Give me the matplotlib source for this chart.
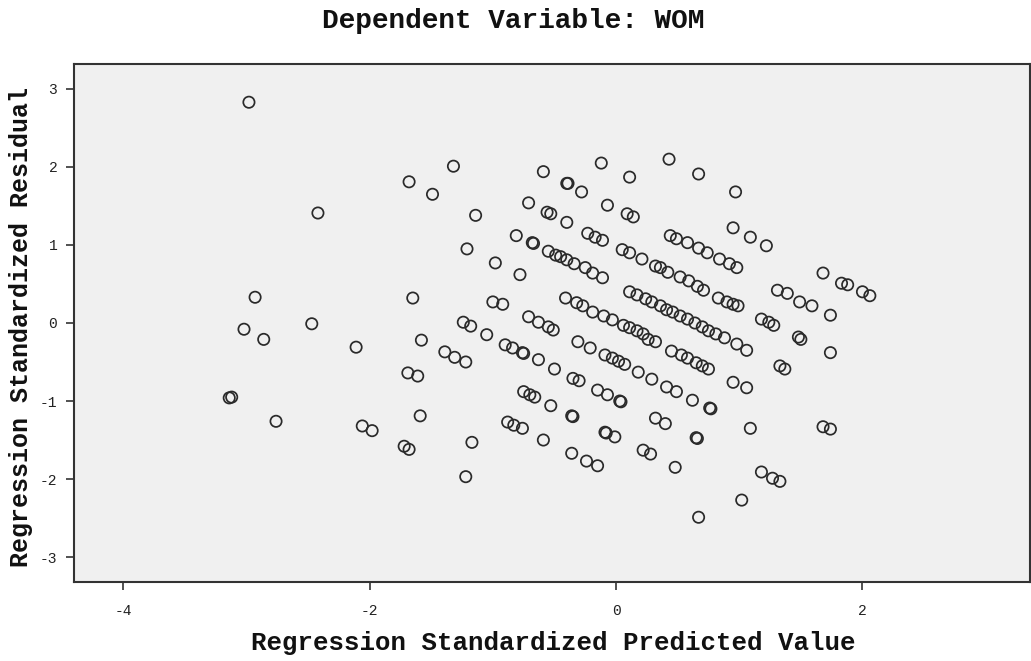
import matplotlib
matplotlib.use("Agg")
import matplotlib.pyplot as plt
import numpy as np

# Regression standardized predicted values (x) and standardized residuals (y)
pred = [
    -2.98, -1.32, -1.68, -1.49, -2.42, -1.14, -1.21, -2.93, -1.65, -3.02,
    -2.86, -2.47, -2.11, -1.58, -3.14, -3.12, -2.76, -1.69, -1.61, -1.59,
    -2.06, -1.98, -1.72, -1.68, -1.17, -1.22, -1.24, -1.18, -1.39, -1.31,
    -1.22, -1.05, -1.00, -0.92, -0.98, -0.78,
    -0.59, -0.40, -0.39, -0.28, -0.12, 0.11, 0.43, 0.67, 0.97, -0.71,
    -0.56, -0.53, -0.40, -0.07, 0.09, 0.14, -0.81, -0.68, -0.67,
    -0.55, -0.49, -0.45, -0.40, -0.34, -0.25, -0.19, -0.11, -0.23, -0.17, -0.11,
    0.05, 0.11, 0.21, 0.32, 0.36, 0.42, 0.52, 0.59, 0.66, 0.71, 0.83, 0.90, 0.95, 0.99,
    0.44, 0.49, 0.58, 0.67, 0.74, 0.84, 0.92, 0.98, 0.95, 1.09, 1.22,
    -0.41, -0.32, -0.27, -0.19, -0.10, -0.03, 0.06, 0.11, 0.17, 0.22, 0.26, 0.32,
    0.11, 0.17, 0.24, 0.29, 0.36, 0.41, 0.46, 0.52, 0.58, 0.64, 0.70, 0.75, 0.81, 0.88, 0.98, 1.06,
    0.45, 0.53, 0.58, 0.65, 0.70, 0.75, 0.95, 1.06,
    -0.31, -0.21, -0.09, -0.03, 0.02, 0.07, 0.18, 0.29, 0.41, 0.49, 0.62, 0.76, 0.77,
    -0.71, -0.63, -0.55, -0.51,
    -0.90, -0.84, -0.76, -0.75, -0.63, -0.50, -0.35, -0.30,
    -0.75, -0.70, -0.66, -0.53, -0.36, -0.35, -0.88, -0.83, -0.76, -0.59, -0.36,
    -0.24, -0.15, -0.15, -0.07, 0.03, 0.04, -0.09, -0.08, -0.01, 0.22, 0.28,
    0.32, 0.40, 0.48, 0.65, 0.66, 0.67,
    1.31, 1.39, 1.49, 1.59, 1.68, 1.83, 1.88, 2.00, 2.06, 1.74, 1.18, 1.24, 1.28,
    1.48, 1.50, 1.74, 1.68, 1.74, 1.18, 1.27, 1.33, 1.02, 1.09, 1.33, 1.37,
]
resid = [
    2.83, 2.01, 1.81, 1.65, 1.41, 1.38, 0.95, 0.33, 0.32, -0.08,
    -0.21, -0.01, -0.31, -0.22, -0.96, -0.95, -1.26, -0.64, -0.68, -1.19,
    -1.32, -1.38, -1.58, -1.62, -1.53, -1.97, 0.01, -0.04, -0.37, -0.44,
    -0.50, -0.15, 0.27, 0.24, 0.77, 0.62,
    1.94, 1.79, 1.79, 1.68, 2.05, 1.87, 2.10, 1.91, 1.68, 1.54,
    1.42, 1.40, 1.29, 1.51, 1.40, 1.36, 1.12, 1.03, 1.02,
    0.92, 0.87, 0.85, 0.81, 0.76, 0.71, 0.64, 0.58, 1.15, 1.10, 1.06,
    0.94, 0.90, 0.82, 0.73, 0.71, 0.65, 0.59, 0.54, 0.47, 0.42, 0.32, 0.27, 0.24, 0.22,
    1.12, 1.08, 1.03, 0.96, 0.90, 0.82, 0.76, 0.71, 1.22, 1.10, 0.99,
    0.32, 0.26, 0.22, 0.14, 0.09, 0.04, -0.03, -0.06, -0.10, -0.14, -0.21, -0.24,
    0.40, 0.36, 0.31, 0.27, 0.22, 0.17, 0.14, 0.09, 0.05, 0.00, -0.05, -0.10, -0.14, -0.19, -0.27, -0.35,
    -0.36, -0.41, -0.45, -0.51, -0.55, -0.59, -0.76, -0.83,
    -0.24, -0.32, -0.41, -0.45, -0.49, -0.53, -0.63, -0.72, -0.82, -0.88, -0.99, -1.09, -1.10,
    0.08, 0.01, -0.05, -0.09,
    -0.28, -0.32, -0.38, -0.39, -0.47, -0.59, -0.71, -0.74,
    -0.88, -0.92, -0.95, -1.06, -1.19, -1.20, -1.27, -1.31, -1.35, -1.50, -1.67,
    -1.77, -1.83, -0.86, -0.92, -1.00, -1.01, -1.40, -1.41, -1.46, -1.63, -1.68,
    -1.22, -1.29, -1.85, -1.47, -1.48, -2.49,
    0.42, 0.38, 0.27, 0.22, 0.64, 0.51, 0.49, 0.40, 0.35, 0.10, 0.05, 0.01, -0.03,
    -0.18, -0.21, -0.38, -1.33, -1.36, -1.91, -1.99, -2.03, -2.27, -1.35, -0.55, -0.59,
]

title_text = "Dependent Variable: WOM"
x_label = "Regression Standardized Predicted Value"
y_label = "Regression Standardized Residual"
x_ticks = [-4, -2, 0, 2]
y_ticks = [-3, -2, -1, 0, 1, 2, 3]

mono = ["Liberation Mono", "DejaVu Sans Mono"]

fig = plt.figure(figsize=(10.31, 6.61), dpi=100)
fig.patch.set_facecolor("white")
ax = fig.add_axes([74 / 1031, 1 - 582 / 661, (1030 - 74) / 1031, (582 - 64) / 661])
ax.set_facecolor("#f0f0f0")

ax.scatter(pred, resid, s=66, facecolors="none", edgecolors="#2a2a2a",
           linewidths=1.25, zorder=3)

ax.set_xlim(-4.40, 3.36)
ax.set_ylim(-3.32, 3.32)
ax.set_xticks(x_ticks)
ax.set_yticks(y_ticks)
ax.set_xticklabels([str(t) for t in x_ticks], family=mono, fontsize=10.5)
ax.set_yticklabels([str(t) for t in y_ticks], family=mono, fontsize=10.5)
ax.tick_params(axis="x", direction="out", length=6, width=1.2, color="#333333",
               labelcolor="#222222", pad=10)
ax.tick_params(axis="y", direction="out", length=6, width=1.2, color="#333333",
               labelcolor="#222222", pad=6)

for sp in ax.spines.values():
    sp.set_color("#333333")
    sp.set_linewidth(1.5)

fig.text(513 / 1031, 1 - 21 / 661, title_text, ha="center", va="center",
         family=mono, fontsize=20, fontweight="bold", color="#111111")
fig.text(553 / 1031, 1 - 643 / 661, x_label, ha="center", va="center",
         family=mono, fontsize=18.5, fontweight="bold", color="#111111")
fig.text(21 / 1031, 1 - 327 / 661, y_label, ha="center", va="center",
         rotation=90, family=mono, fontsize=18, fontweight="bold", color="#111111")

fig.savefig("out.png", dpi=100, facecolor="white")
